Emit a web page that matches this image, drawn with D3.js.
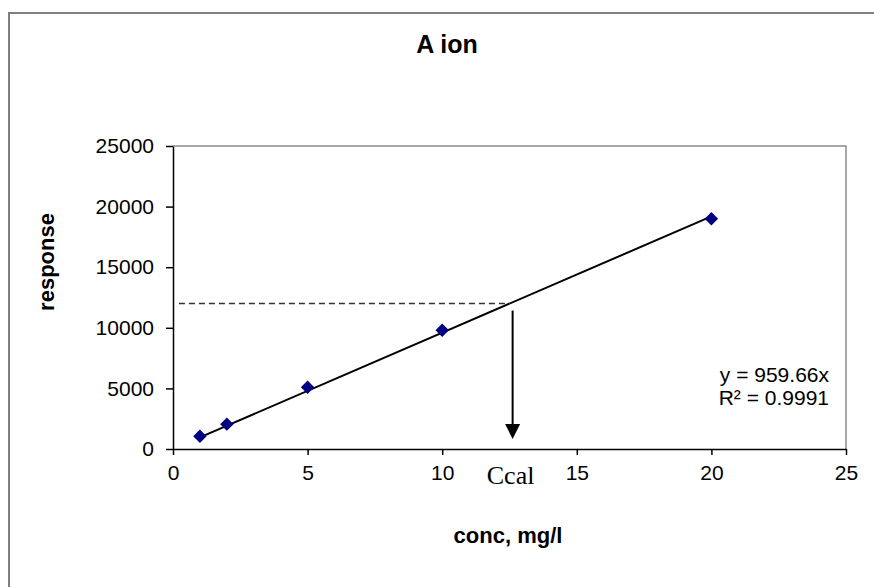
<!DOCTYPE html>
<html>
<head>
<meta charset="utf-8">
<script src="https://cdn.jsdelivr.net/npm/d3@7"></script>
<style>
  body { margin: 0; background: #fff; }
  svg { display: block; font-family: "Liberation Sans", Arial, sans-serif; }
</style>
</head>
<body>
<div id="chart"></div>
<script>
// calibration points
const conc = [1, 2, 5, 10, 20];
const response = [1050, 2050, 5100, 9800, 19000];
const xTicks = [0, 5, 10, 15, 20, 25];
const yTicks = [0, 5000, 10000, 15000, 20000, 25000];
const slope = 959.66;
const trendRange = [1, 20];
const sampleResponse = 12000;
const eqLines = ['y = 959.66x', 'R² = 0.9991'];

const width = 874, height = 587;
const margin = { top: 146, right: 28, bottom: 138, left: 173 };

const svg = d3.select('#chart').append('svg')
    .attr('width', width)
    .attr('height', height);

// cadre extérieur
svg.append('rect')
    .attr('x', 9).attr('y', 13)
    .attr('width', 900).attr('height', 700)
    .attr('fill', 'none')
    .attr('stroke', '#7f7f7f')
    .attr('stroke-width', 2);

const innerW = width - margin.left - margin.right;
const innerH = height - margin.top - margin.bottom;

const x = d3.scaleLinear().domain([0, 25]).range([0, innerW]);
const y = d3.scaleLinear().domain([0, 25000]).range([innerH, 0]);

const g = svg.append('g')
    .attr('transform', `translate(${margin.left},${margin.top})`);

// bords haut/droite en gris
g.append('path')
    .attr('d', `M0,0H${innerW}V${innerH}`)
    .attr('fill', 'none')
    .attr('stroke', '#8c8c8c')
    .attr('stroke-width', 1.5);

const xAxis = g.append('g')
    .attr('transform', `translate(0,${innerH})`)
    .call(d3.axisBottom(x).tickValues(xTicks).tickFormat(d3.format('d'))
        .tickSize(6).tickPadding(10).tickSizeOuter(0));
const yAxis = g.append('g')
    .call(d3.axisLeft(y).tickValues(yTicks).tickFormat(d3.format('d'))
        .tickSize(7).tickPadding(12).tickSizeOuter(0));

[xAxis, yAxis].forEach(a => {
    a.selectAll('path, line').attr('stroke', '#000').attr('stroke-width', 1.5);
    a.selectAll('text')
        .attr('fill', '#000')
        .style('font-family', '"Liberation Sans", Arial, sans-serif')
        .style('font-size', '21px');
});

// courbe d'étalonnage
const line = d3.line().x(d => x(d)).y(d => y(d * slope));
g.append('path')
    .datum(trendRange)
    .attr('d', line)
    .attr('fill', 'none')
    .attr('stroke', '#000')
    .attr('stroke-width', 2);

// lecture de Ccal
const cCal = sampleResponse / slope;
g.append('line')
    .attr('x1', x(0.22)).attr('x2', x(cCal))
    .attr('y1', y(sampleResponse)).attr('y2', y(sampleResponse))
    .attr('stroke', '#333')
    .attr('stroke-width', 1.4)
    .attr('stroke-dasharray', '6,4');

const ax = x(cCal) + 3;
g.append('line')
    .attr('x1', ax).attr('x2', ax)
    .attr('y1', y(sampleResponse) + 7).attr('y2', y(0) - 25)
    .attr('stroke', '#000')
    .attr('stroke-width', 2);
g.append('path')
    .attr('d', `M${ax - 7.5},${y(0) - 25}L${ax + 7.5},${y(0) - 25}L${ax},${y(0) - 10}Z`)
    .attr('fill', '#000');

g.append('text')
    .attr('x', ax - 2).attr('y', innerH + 35)
    .attr('text-anchor', 'middle')
    .style('font-family', '"Liberation Serif", "Times New Roman", serif')
    .style('font-size', '26px')
    .text('Ccal');

// points
g.selectAll('.point')
    .data(conc)
    .enter()
    .append('path')
    .attr('class', 'point')
    .attr('d', d3.symbol(d3.symbolSquare, 90))
    .attr('transform', (d, i) => `translate(${x(d)},${y(response[i])}) rotate(45)`)
    .attr('fill', '#000080');

// équation
g.append('text')
    .attr('x', 656).attr('y', 236)
    .attr('text-anchor', 'end')
    .style('font-size', '21px')
    .selectAll('tspan')
    .data(eqLines)
    .enter()
    .append('tspan')
    .attr('x', 656)
    .attr('dy', (d, i) => i === 0 ? 0 : 23)
    .text(d => d);

// titres
svg.append('text')
    .attr('x', 447).attr('y', 53)
    .attr('text-anchor', 'middle')
    .style('font-weight', 'bold')
    .style('font-size', '25px')
    .text('A ion');

svg.append('text')
    .attr('x', 508).attr('y', 543)
    .attr('text-anchor', 'middle')
    .style('font-weight', 'bold')
    .style('font-size', '22px')
    .text('conc, mg/l');

svg.append('text')
    .attr('transform', 'translate(54,262) rotate(-90)')
    .attr('text-anchor', 'middle')
    .style('font-weight', 'bold')
    .style('font-size', '22px')
    .text('response');
</script>
</body>
</html>
